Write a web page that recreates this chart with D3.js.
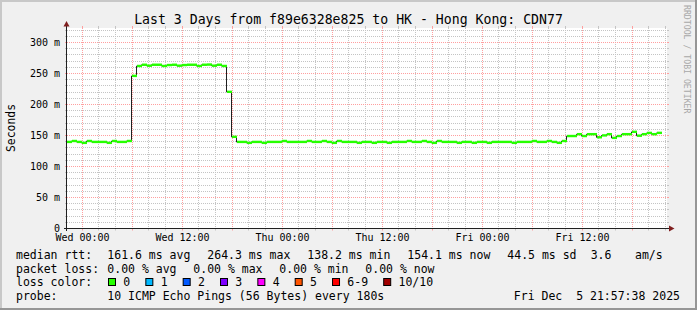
<!DOCTYPE html>
<html><head><meta charset="utf-8">
<script src="https://cdn.jsdelivr.net/npm/d3@7"></script>
<style>
html,body{margin:0;padding:0;background:#f0f0f0}
svg{display:block}
text{font-family:"DejaVu Sans Mono",monospace;fill:#000}
</style></head><body>
<svg id="c" width="697" height="310"></svg>
<script>
// ---------- data ----------
const title = "Last 3 Days from f89e6328e825 to HK - Hong Kong: CDN77";
const yTicks = [0, 50, 100, 150, 200, 250, 300];
const yTickLabels = ["0", "50 m", "100 m", "150 m", "200 m", "250 m", "300 m"];
const xTickLabels = ["Wed 00:00", "Wed 12:00", "Thu 00:00", "Thu 12:00", "Fri 00:00", "Fri 12:00"];
const startTime = new Date(2025, 11, 2, 22, 10, 0);
const stepMinutes = 36;
// median rtt in ms, one value per consolidated step
const rtt = [
  139.5, 141, 139.5, 138, 141, 139.5, 139.5, 139.5, 138, 141,
  139.5, 139.5, 141, 246, 262, 264, 262.5, 264, 264, 262,
  263.5, 264, 262.5, 263.5, 264, 264, 262, 264, 264.3, 262.5,
  264, 262, 220.3, 147.7, 139.5, 139.5, 138, 139.5, 139.5, 138,
  139.5, 139.5, 139.5, 141, 139.5, 139.5, 139.5, 139.5, 141, 139.5,
  139.5, 141, 139.5, 138, 141, 139.5, 139.5, 139.5, 138, 139.5,
  139.5, 138, 139.5, 139.5, 138, 139.5, 139.5, 139.5, 141, 139.5,
  139.5, 141, 139.5, 138, 141, 139.5, 139.5, 139.5, 138, 139.5,
  139.5, 138, 139.5, 139.5, 138, 139.5, 139.5, 139.5, 139.5, 138,
  139.5, 139.5, 139.5, 141, 139.5, 139.5, 141, 139.5, 138, 141,
  149, 149, 152, 149, 152, 152, 147, 150, 152, 146,
  149, 152, 152, 155.8, 149.6, 152, 154, 152, 154.1
];
const lossLabels = ["0", "1", "2", "3", "4", "5", "6-9", "10/10"];
const lossColors = ["#26ff00", "#00b8ff", "#0059ff", "#7e00ff", "#ff00ff", "#ff5500", "#ff0000", "#a10000"];
const rttStats = ["161.6 ms avg", "264.3 ms max", "138.2 ms min", "154.1 ms now", "44.5 ms sd"];
const amsValue = "3.6";
const amsUnit = "am/s";
const lossStats = ["0.00 % avg", "0.00 % max", "0.00 % min", "0.00 % now"];
const probeText = "10 ICMP Echo Pings (56 Bytes) every 180s";
const stampText = "Fri Dec  5 21:57:38 2025";

// ---------- layout ----------
const W = 697, H = 310;
const X0 = 67, X1 = 667, YB = 228.5, YT = 28.5;
const svg = d3.select("#c");
const endTime = d3.timeHour.offset(startTime, 72);

const x = d3.scaleTime().domain([startTime, endTime]).range([X0, X1]);
const y = d3.scaleLinear().domain([0, 322.6]).range([YB, YT]);

// frame
svg.append("rect").attr("width", W).attr("height", H).attr("fill", "#f0f0f0");
svg.append("path").attr("d", `M0,0H${W}V2H2V${H}H0Z`).attr("fill", "#c8c8c8");
svg.append("path").attr("d", `M${W},0V${H}H0V${H-2}H${W-2}V0Z`).attr("fill", "#969696");
// canvas
svg.append("rect").attr("x", X0).attr("y", 28).attr("width", X1 - X0).attr("height", 200).attr("fill", "#fff");

const gGrid = svg.append("g");
const minorCol = "#c4c4c4", majorCol = "#ff9f9f";
function hLine(v, col) {
  const yy = Math.round(y(v) - 0.5) + 0.5;
  gGrid.append("line").attr("x1", X0).attr("x2", X1).attr("y1", yy).attr("y2", yy)
    .attr("stroke", col).attr("stroke-dasharray", "1,1");
  gGrid.append("line").attr("x1", X0 - 2).attr("x2", X0).attr("y1", yy).attr("y2", yy).attr("stroke", col);
  gGrid.append("line").attr("x1", X1).attr("x2", X1 + 2).attr("y1", yy).attr("y2", yy).attr("stroke", col);
}
function vLine(t, col) {
  const xx = Math.floor(x(t)) + 0.5;
  gGrid.append("line").attr("x1", xx).attr("x2", xx).attr("y1", 28).attr("y2", 228)
    .attr("stroke", col).attr("stroke-dasharray", "1,1");
  gGrid.append("line").attr("x1", xx).attr("x2", xx).attr("y1", 26).attr("y2", 28).attr("stroke", col);
  gGrid.append("line").attr("x1", xx).attr("x2", xx).attr("y1", 228).attr("y2", 230.5).attr("stroke", col);
}
d3.range(10, 322, 10).filter(v => v % 50 !== 0).forEach(v => hLine(v, minorCol));
d3.timeHour.every(2).range(startTime, endTime).filter(t => t.getHours() % 6 !== 0).forEach(t => vLine(t, minorCol));
yTicks.filter(v => v > 0).forEach(v => hLine(v, majorCol));
d3.timeHour.every(6).range(startTime, endTime).forEach(t => vLine(t, majorCol));

// ---------- data marks ----------
const pts = rtt.map((v, i) => ({ t: d3.timeMinute.offset(startTime, i * stepMinutes), v }));
const stepPts = pts.concat([{ t: d3.timeMinute.offset(startTime, rtt.length * stepMinutes), v: rtt[rtt.length - 1] }]);
const line = d3.line().x(d => x(d.t) - 0.5).y(d => y(d.v)).curve(d3.curveStepAfter);
svg.append("path").datum(stepPts).attr("d", line).attr("fill", "none").attr("stroke", "#202020").attr("stroke-width", 1);
svg.append("g").selectAll("rect").data(pts).join("rect")
  .attr("x", d => x(d.t))
  .attr("width", d => x(d3.timeMinute.offset(d.t, stepMinutes)) - x(d.t))
  .attr("y", d => y(d.v) - 1.3)
  .attr("height", 2.4)
  .attr("fill", lossColors[0]);

// ---------- axes ----------
const axisCol = "#202020", arrowCol = "#7f1f1f";
svg.append("line").attr("x1", 66.5).attr("x2", 66.5).attr("y1", 231).attr("y2", 24).attr("stroke", axisCol);
svg.append("line").attr("x1", 64).attr("x2", 670).attr("y1", 228.5).attr("y2", 228.5).attr("stroke", axisCol);
svg.append("path").attr("d", "M63.5,26.5L66.5,21L69.5,26.5Z").attr("fill", arrowCol);
svg.append("path").attr("d", "M669,225.5L674.5,228.5L669,231.5Z").attr("fill", arrowCol);

// y labels
svg.append("g").selectAll("text").data(yTicks).join("text")
  .attr("x", 60).attr("y", d => Math.round(y(d) - 0.5) + 4)
  .attr("text-anchor", "end").attr("font-size", "10px")
  .text((d, i) => yTickLabels[i]);
// x labels
const xTickTimes = d3.timeHour.every(12).range(startTime, endTime);
svg.append("g").selectAll("text").data(xTickTimes).join("text")
  .attr("x", d => Math.floor(x(d)) + 0.5).attr("y", 241)
  .attr("text-anchor", "middle").attr("font-size", "10px")
  .text((d, i) => xTickLabels[i]);

// title
svg.append("text").attr("x", 348.5).attr("y", 23.5).attr("text-anchor", "middle")
  .attr("font-size", "13.2px").text(title);
// unit
svg.append("text").attr("transform", "translate(15,128) rotate(-90)").attr("text-anchor", "middle")
  .attr("font-size", "11.4px").text("Seconds");
// watermark
svg.append("text").attr("transform", "translate(684,5) rotate(90)")
  .attr("font-size", "8.2px").style("fill", "#a8a8a8").text("RRDTOOL / TOBI OETIKER");

// ---------- legend ----------
const LF = "11.5px";
function lt(xp, yp, s) {
  return svg.append("text").attr("x", xp).attr("y", yp).attr("font-size", LF)
    .style("white-space", "pre").text(s);
}
const r1 = 258.5, r2 = 272.5, r3 = 286.3, r4 = 300.3;
lt(16, r1, "median rtt:");
rttStats.forEach((s, i) => lt(107.3 + i * 100, r1, s));
lt(590.7, r1, amsValue);
lt(635, r1, amsUnit);
lt(16, r2, "packet loss:");
lossStats.forEach((s, i) => lt(107.3 + i * 86, r2, s));
lt(16, r3, "loss color:");
let bx = 108.5;
lossLabels.forEach((lab, i) => {
  svg.append("rect").attr("x", bx).attr("y", 278.5).attr("width", 7).attr("height", 7)
    .attr("fill", lossColors[i]).attr("stroke", "#000").attr("stroke-width", 1);
  const t = lt(bx + 14.8, r3, lab);
  bx = bx + 14.8 + t.node().getComputedTextLength() + 15.6;
});
lt(16, r4, "probe:");
lt(107.3, r4, probeText);
lt(680, r4, stampText).attr("text-anchor", "end");
</script>
</body></html>
